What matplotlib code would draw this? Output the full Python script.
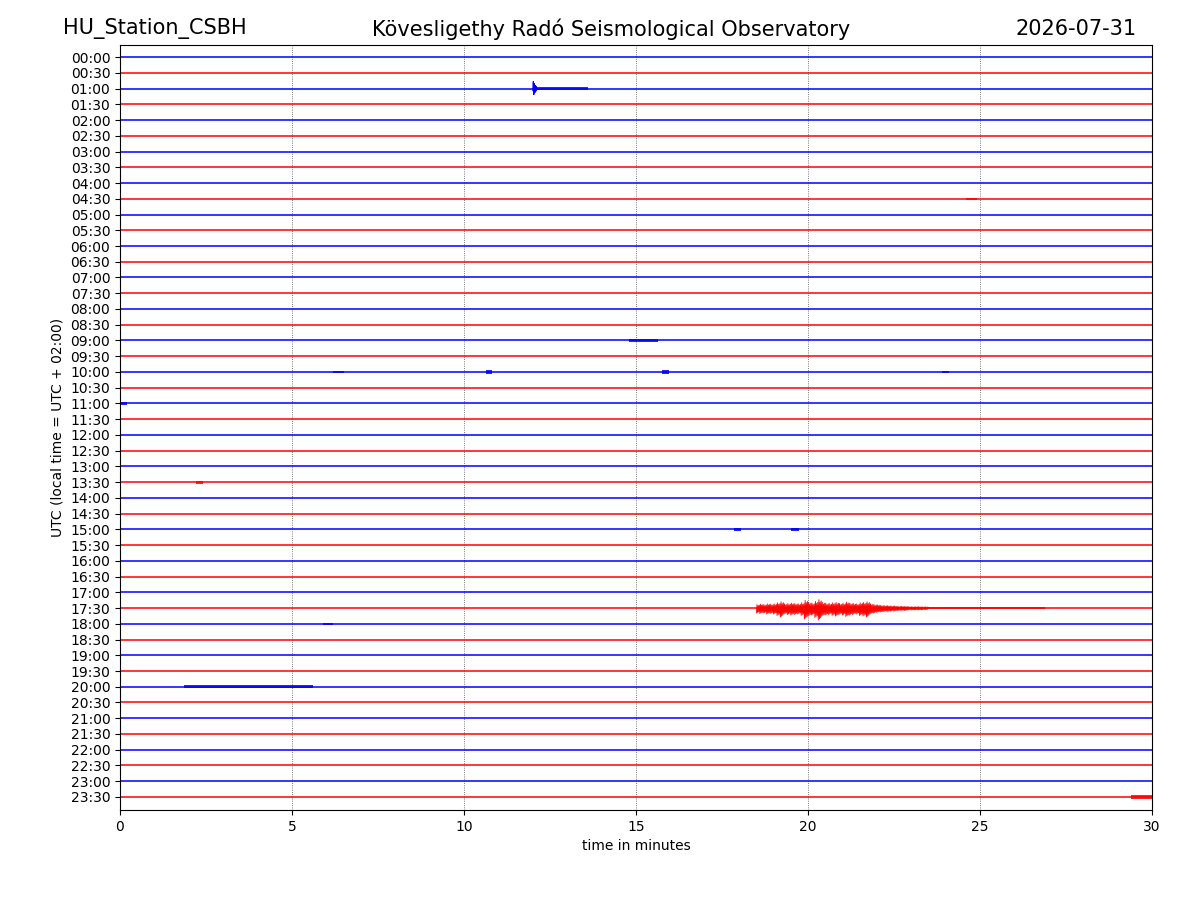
import matplotlib
matplotlib.use("Agg")
import matplotlib.pyplot as plt

# row labels: one trace every 30 minutes
row_labels = ["%02d:%02d" % (h, m) for h in range(24) for m in (0, 30)]
row_colors = ["blue", "red"] * 24

px_per_row = 15.74  # vertical spacing of the traces in the reference, in pixels

# small local events: (row index, start minute, end minute, half amplitude in px)
small_events = [
    (2, 12.10, 13.60, 1.6),
    (9, 24.60, 24.90, 1.2),
    (18, 14.80, 15.65, 1.8),
    (20, 6.20, 6.50, 1.4),
    (20, 10.65, 10.80, 2.2),
    (20, 15.75, 15.95, 1.8),
    (20, 23.90, 24.10, 1.3),
    (22, 0.00, 0.20, 1.6),
    (27, 2.20, 2.40, 1.5),
    (30, 17.85, 18.05, 1.4),
    (30, 19.50, 19.75, 1.8),
    (36, 5.90, 6.20, 1.2),
    (40, 1.85, 5.60, 1.4),
    (47, 29.40, 30.00, 1.6),
]

# 01:00 spike (row 2): minute, half amplitude in px
spike_row = 2
spike_t = [12.00, 12.015, 12.03, 12.045, 12.06, 12.075, 12.09, 12.105]
spike_a = [2.0, 7.0, 6.0, 5.0, 4.0, 3.0, 2.5, 2.0]

# 17:30 event (row 35), half amplitude in px every 0.1 minute from 18.5
quake_row = 35
quake_t0 = 18.5
quake_a = [5.0, 5.5, 5.0, 6.0, 5.5, 6.0, 7.5, 9.0, 6.0, 6.5,
           7.0, 6.5, 6.0, 7.5, 11.0, 8.0, 7.0, 9.5, 12.0, 8.0,
           7.0, 6.5, 7.5, 8.0, 6.5, 7.0, 8.5, 7.0, 6.5, 6.0,
           7.5, 8.0, 9.0, 6.0, 5.0, 4.5, 4.0, 3.5, 3.5, 3.0,
           3.0, 2.5, 2.5, 2.5, 2.0, 2.0, 2.0, 2.0, 1.8, 1.8]
# lower-amplitude coda after the main shaking: (start, end, half amplitude px)
quake_tail = [(23.5, 25.0, 1.3), (25.0, 26.9, 1.1)]

fig = plt.figure(figsize=(12, 9), dpi=100)
ax = fig.add_axes([0.1, 0.1, 0.86, 0.85])

for i, col in enumerate(row_colors):
    ax.plot([0, 30], [i, i], color=col, lw=1.1)


def zigzag(ts, amps, row, col, lw=0.6):
    ys = []
    for k, a in enumerate(amps):
        s = 1 if k % 2 == 0 else -1
        ys.append(row + s * a / px_per_row)
    ax.plot(ts, ys, color=col, lw=lw)


def band(t0, t1, a, row, col):
    h = a / px_per_row
    ax.fill_between([t0, t1], [row - h, row - h], [row + h, row + h],
                    color=col, lw=0, alpha=0.85)


for row, t0, t1, a in small_events:
    band(t0, t1, a, row, row_colors[row])

zigzag(spike_t, spike_a, spike_row, row_colors[spike_row], lw=0.8)

qt = []
qa = []
for k, a in enumerate(quake_a):
    for j in range(6):
        qt.append(quake_t0 + 0.1 * k + j / 60)
        qa.append(a * (1.0, 0.7, 0.9, 0.5, 0.8, 0.6)[j])
zigzag(qt, qa, quake_row, row_colors[quake_row], lw=0.6)
for t0, t1, a in quake_tail:
    band(t0, t1, a, quake_row, row_colors[quake_row])

ax.set_xlim(0, 30)
ax.set_ylim(47.83, -0.77)
ax.set_yticks(range(len(row_labels)))
ax.set_yticklabels(row_labels)
ax.set_xticks([0, 5, 10, 15, 20, 25, 30])
ax.grid(True, axis="x", color="k", linestyle=":", lw=0.6, alpha=0.7)
ax.set_xlabel("time in minutes")
ax.set_ylabel("UTC (local time = UTC + 02:00)")

fig.text(0.0525, 0.968, "HU_Station_CSBH", ha="left", va="center", fontsize=15)
fig.text(0.509, 0.968, "Kövesligethy Radó Seismological Observatory",
         ha="center", va="center", fontsize=15)
fig.text(0.9475, 0.968, "2026-07-31", ha="right", va="center", fontsize=15)

fig.savefig("out.png", dpi=100)
